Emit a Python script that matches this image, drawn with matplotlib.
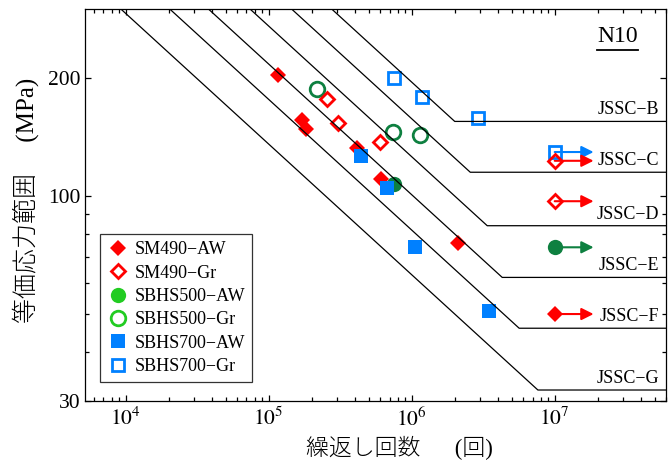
import numpy as np
import matplotlib
matplotlib.use("Agg")
import matplotlib.pyplot as plt
from matplotlib.lines import Line2D
from matplotlib.ticker import FixedLocator, NullFormatter

plt.rcParams['font.family'] = ['Liberation Serif', 'Noto Sans CJK JP']
plt.rcParams['mathtext.fontset'] = 'stix'
plt.rcParams['font.size'] = 13

# JSSC design curves: strength at 2e6 cycles and constant amplitude limit (MPa)
jssc_names = ['JSSC−B', 'JSSC−C', 'JSSC−D', 'JSSC−E', 'JSSC−F', 'JSSC−G']
jssc_strength = [155, 125, 100, 80, 65, 50]
jssc_cutoff = [155, 115, 84, 62, 46, 32]

# test data (cycles, stress range)
sm490_aw_n = [1.16e5, 1.70e5, 1.82e5, 4.12e5, 6.14e5, 2.11e6]
sm490_aw_s = [204, 156, 148, 132.5, 110.5, 76]
sm490_gr_n = [2.56e5, 3.06e5, 5.97e5]
sm490_gr_s = [177, 154, 137]
sbhs500_aw_n = [7.5e5]
sbhs500_aw_s = [107.5]
sbhs500_gr_n = [2.19e5, 7.4e5, 1.14e6]
sbhs500_gr_s = [187, 145.5, 143]
sbhs700_aw_n = [4.45e5, 6.71e5, 1.06e6, 3.45e6]
sbhs700_aw_s = [126.5, 105, 74, 51]
sbhs700_gr_n = [7.52e5, 1.18e6, 2.93e6]
sbhs700_gr_s = [200, 179, 158.5]

# run-outs at 1e7 cycles
runout_n = 1e7
runout_tip = 1.87e7
sm490_aw_run = [50]
sm490_gr_run = [123, 97]
sbhs500_aw_run = [74]
sbhs700_gr_run = [129.5]

red = '#FF0000'
green = '#0E8040'
green_leg = '#22CC22'
blue = '#0080FF'

fig = plt.figure(figsize=(6.72, 4.69), dpi=100)
ax = fig.add_axes([85 / 672, 1 - 401 / 469, 581 / 672, 392 / 469])
ax.set_xscale('log')
ax.set_yscale('log')
ax.set_xlim(5.2e3, 6e7)
ax.set_ylim(30, 300)

# design curves
for name, fs, fc in zip(jssc_names, jssc_strength, jssc_cutoff):
    knee = 2e6 * (fs / fc) ** 3
    n = np.array([1e3, knee, 1e8])
    s = np.maximum(fs * (2e6 / n) ** (1 / 3), fc)
    ax.plot(n, s, color='black', lw=0.9, zorder=5)
    ax.annotate(name, xy=(0.988, fc), xycoords=('axes fraction', 'data'),
                xytext=(0, 5), textcoords='offset points', ha='right', va='baseline',
                fontsize=13)

def runouts(vals, color, zo):
    for v in vals:
        ax.annotate('', xy=(runout_tip, v), xytext=(runout_n, v),
                    arrowprops=dict(arrowstyle='-|>', color=color, lw=1.5,
                                    mutation_scale=18, shrinkA=0, shrinkB=0),
                    zorder=zo)

runouts(sm490_gr_run, red, 3)
runouts(sm490_aw_run, red, 3)
runouts(sbhs500_aw_run, green, 3)
runouts(sbhs700_gr_run, blue, 2)

ax.plot(sm490_aw_n + [runout_n] * len(sm490_aw_run), sm490_aw_s + sm490_aw_run,
        'D', color=red, ms=8, mew=0, ls='none', zorder=3)
ax.plot(sm490_gr_n + [runout_n] * len(sm490_gr_run), sm490_gr_s + sm490_gr_run,
        'D', mfc='none', mec=red, ms=7.5, mew=2, ls='none', zorder=4)
ax.plot(sbhs500_aw_n + [runout_n] * len(sbhs500_aw_run), sbhs500_aw_s + sbhs500_aw_run,
        'o', color=green, ms=11, mew=0, ls='none', zorder=3.5)
ax.plot(sbhs500_gr_n, sbhs500_gr_s,
        'o', mfc='none', mec=green, ms=10.5, mew=2, ls='none', zorder=3)
ax.plot(sbhs700_aw_n, sbhs700_aw_s,
        's', color=blue, ms=10, mew=0, ls='none', zorder=3.8)
ax.plot(sbhs700_gr_n + [runout_n] * len(sbhs700_gr_run), sbhs700_gr_s + sbhs700_gr_run,
        's', mfc='none', mec=blue, ms=8.5, mew=2, ls='none', zorder=3)

# ticks
ax.yaxis.set_major_locator(FixedLocator([30, 100, 200]))
ax.yaxis.set_minor_locator(FixedLocator([40, 50, 60, 70, 80, 90]))
ax.set_yticklabels(['30', '100', '200'])
ax.yaxis.set_minor_formatter(NullFormatter())
ax.xaxis.set_major_locator(FixedLocator([1e4, 1e5, 1e6, 1e7]))
ax.set_xticklabels([r'$\mathrm{10^{4}}$', r'$\mathrm{10^{5}}$', r'$\mathrm{10^{6}}$', r'$\mathrm{10^{7}}$'])
ax.tick_params(which='both', direction='in', top=True, right=True, width=0.9)
ax.tick_params(which='major', length=4, labelsize=15.5)
ax.tick_params(which='minor', length=3)
ax.tick_params(axis='x', which='major', pad=5)
for sp in ax.spines.values():
    sp.set_linewidth(0.9)

ax.set_xlabel('繰返し回数　  (回)', fontsize=16.5, fontweight='light')
ax.xaxis.set_label_coords(0.380, -0.12)
ax.xaxis.label.set_ha('left')
ax.xaxis.label.set_va('center')
ax.set_ylabel('等価応力範囲　 (MPa)', fontsize=18, fontweight='light')
ax.yaxis.set_label_coords(-0.103, 0.513)
ax.yaxis.label.set_va('center')

ax.text(0.916, 0.929, 'N10', transform=ax.transAxes, ha='center', va='center', fontsize=17)
ax.plot([0.881, 0.952], [0.895, 0.895], transform=ax.transAxes, color='black', lw=1.3)

handles = [
    Line2D([], [], marker='D', color=red, ms=8, mew=0, ls='none'),
    Line2D([], [], marker='D', mfc='none', mec=red, ms=7.5, mew=2, ls='none'),
    Line2D([], [], marker='o', color=green_leg, ms=11, mew=0, ls='none'),
    Line2D([], [], marker='o', mfc='none', mec=green_leg, ms=10.5, mew=2, ls='none'),
    Line2D([], [], marker='s', color=blue, ms=10, mew=0, ls='none'),
    Line2D([], [], marker='s', mfc='none', mec=blue, ms=8.5, mew=2, ls='none'),
]
labels = ['SM490−AW', 'SM490−Gr', 'SBHS500−AW', 'SBHS500−Gr', 'SBHS700−AW', 'SBHS700−Gr']
leg = ax.legend(handles, labels, loc='lower left', bbox_to_anchor=(0.026, 0.048),
                borderaxespad=0, fontsize=13, frameon=True, fancybox=False,
                edgecolor='black', handlelength=1.2, handletextpad=0.3,
                labelspacing=0.35, borderpad=0.4)
leg.get_frame().set_linewidth(0.9)

fig.savefig('out.png', dpi=100)
